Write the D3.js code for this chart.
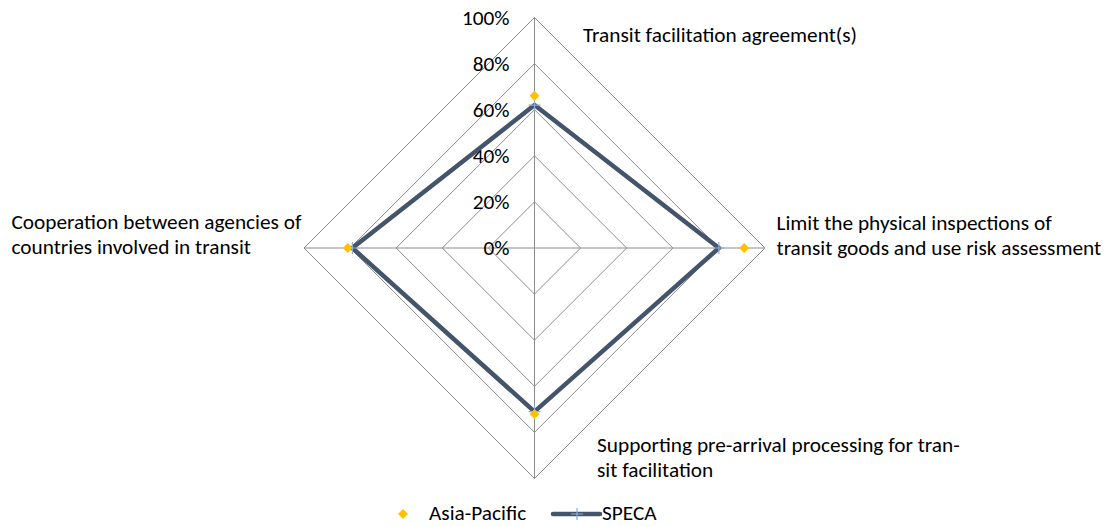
<!DOCTYPE html>
<html>
<head>
<meta charset="utf-8">
<script src="https://cdn.jsdelivr.net/npm/d3@7"></script>
<style>
  body { margin: 0; background: #fff; }
  svg { font-family: Carlito, Calibri, Lato, "Open Sans", sans-serif; }
</style>
</head>
<body>
<svg id="chart" width="1109" height="527"></svg>
<script>
// 数据
const categories = [
  "Transit facilitation agreement(s)",
  "Limit the physical inspections of\ntransit goods and use risk assessment",
  "Supporting pre-arrival processing for tran-\nsit facilitation",
  "Cooperation between agencies of\ncountries involved in transit"
];
const asiaPacific = [0.66, 0.91, 0.72, 0.81];
const speca = [0.62, 0.80, 0.71, 0.79];
const ticks = [0, 0.2, 0.4, 0.6, 0.8, 1.0];
const tickLabels = ["0%", "20%", "40%", "60%", "80%", "100%"];

const svg = d3.select("#chart");
const cx = 534.5, cy = 248;
const fontSize = 21.3;
const r = d3.scaleLinear().domain([0, 1]).range([0, 230.5]);
const angle = i => i * Math.PI / 2 - Math.PI / 2;
const pt = (v, i) => [cx + r(v) * Math.cos(angle(i)), cy + r(v) * Math.sin(angle(i))];

const g = svg.append("g");

// 网格
const ring = d3.line().curve(d3.curveLinearClosed);
g.selectAll(".ring").data(ticks.slice(1)).join("path")
  .attr("d", t => ring(categories.map((c, i) => pt(t, i))))
  .attr("fill", "none").attr("stroke", "#8c8c8c").attr("stroke-width", 1);

g.selectAll(".spoke").data(categories).join("line")
  .attr("x1", cx).attr("y1", cy)
  .attr("x2", (d, i) => pt(1, i)[0]).attr("y2", (d, i) => pt(1, i)[1])
  .attr("stroke", "#8c8c8c").attr("stroke-width", 1);

// 刻度标签
g.selectAll(".tick").data(ticks).join("text")
  .attr("x", cx - 25).attr("y", t => cy - r(t) + 7)
  .attr("text-anchor", "end")
  .attr("font-size", fontSize).attr("fill", "#000")
  .text((t, i) => tickLabels[i]);

// 类别标签
const labelPos = [
  { x: 583, y: 42 },
  { x: 776.5, y: 230 },
  { x: 597, y: 452 },
  { x: 11.5, y: 229 }
];
categories.forEach((c, i) => {
  const t = g.append("text")
    .attr("x", labelPos[i].x).attr("y", labelPos[i].y)
    .attr("font-size", fontSize).attr("fill", "#000");
  c.split("\n").forEach((line, k) => {
    t.append("tspan").attr("x", labelPos[i].x).attr("dy", k === 0 ? 0 : 24.5).text(line);
  });
});

// SPECA 线
g.append("path")
  .attr("d", ring(speca.map((v, i) => pt(v, i))))
  .attr("fill", "none").attr("stroke", "#44546a").attr("stroke-width", 4.5)
  .attr("stroke-linejoin", "round");

const plus = (x, y, s) => `M${x - s},${y}H${x + s}M${x},${y - s}V${y + s}`;
g.selectAll(".speca-mark").data(speca).join("path")
  .attr("d", (v, i) => plus(...pt(v, i), 6))
  .attr("stroke", "#8eaadb").attr("stroke-width", 1.2).attr("fill", "none");

// Asia-Pacific 菱形
const diamond = d3.symbol(d3.symbolSquare, 50);
g.selectAll(".ap-mark").data(asiaPacific).join("path")
  .attr("d", diamond)
  .attr("transform", (v, i) => `translate(${pt(v, i)}) rotate(45)`)
  .attr("fill", "#ffc000");

// 图例
const lg = svg.append("g");
lg.append("path").attr("d", diamond)
  .attr("transform", "translate(403,514) rotate(45)").attr("fill", "#ffc000");
lg.append("text").attr("x", 429).attr("y", 520).attr("font-size", fontSize).text("Asia-Pacific");
lg.append("line").attr("x1", 553).attr("x2", 600).attr("y1", 514).attr("y2", 514)
  .attr("stroke", "#44546a").attr("stroke-width", 4.5).attr("stroke-linecap", "round");
lg.append("path").attr("d", plus(577, 514, 6)).attr("stroke", "#8eaadb").attr("stroke-width", 1.2);
lg.append("text").attr("x", 602).attr("y", 520).attr("font-size", fontSize).text("SPECA");
</script>
</body>
</html>
